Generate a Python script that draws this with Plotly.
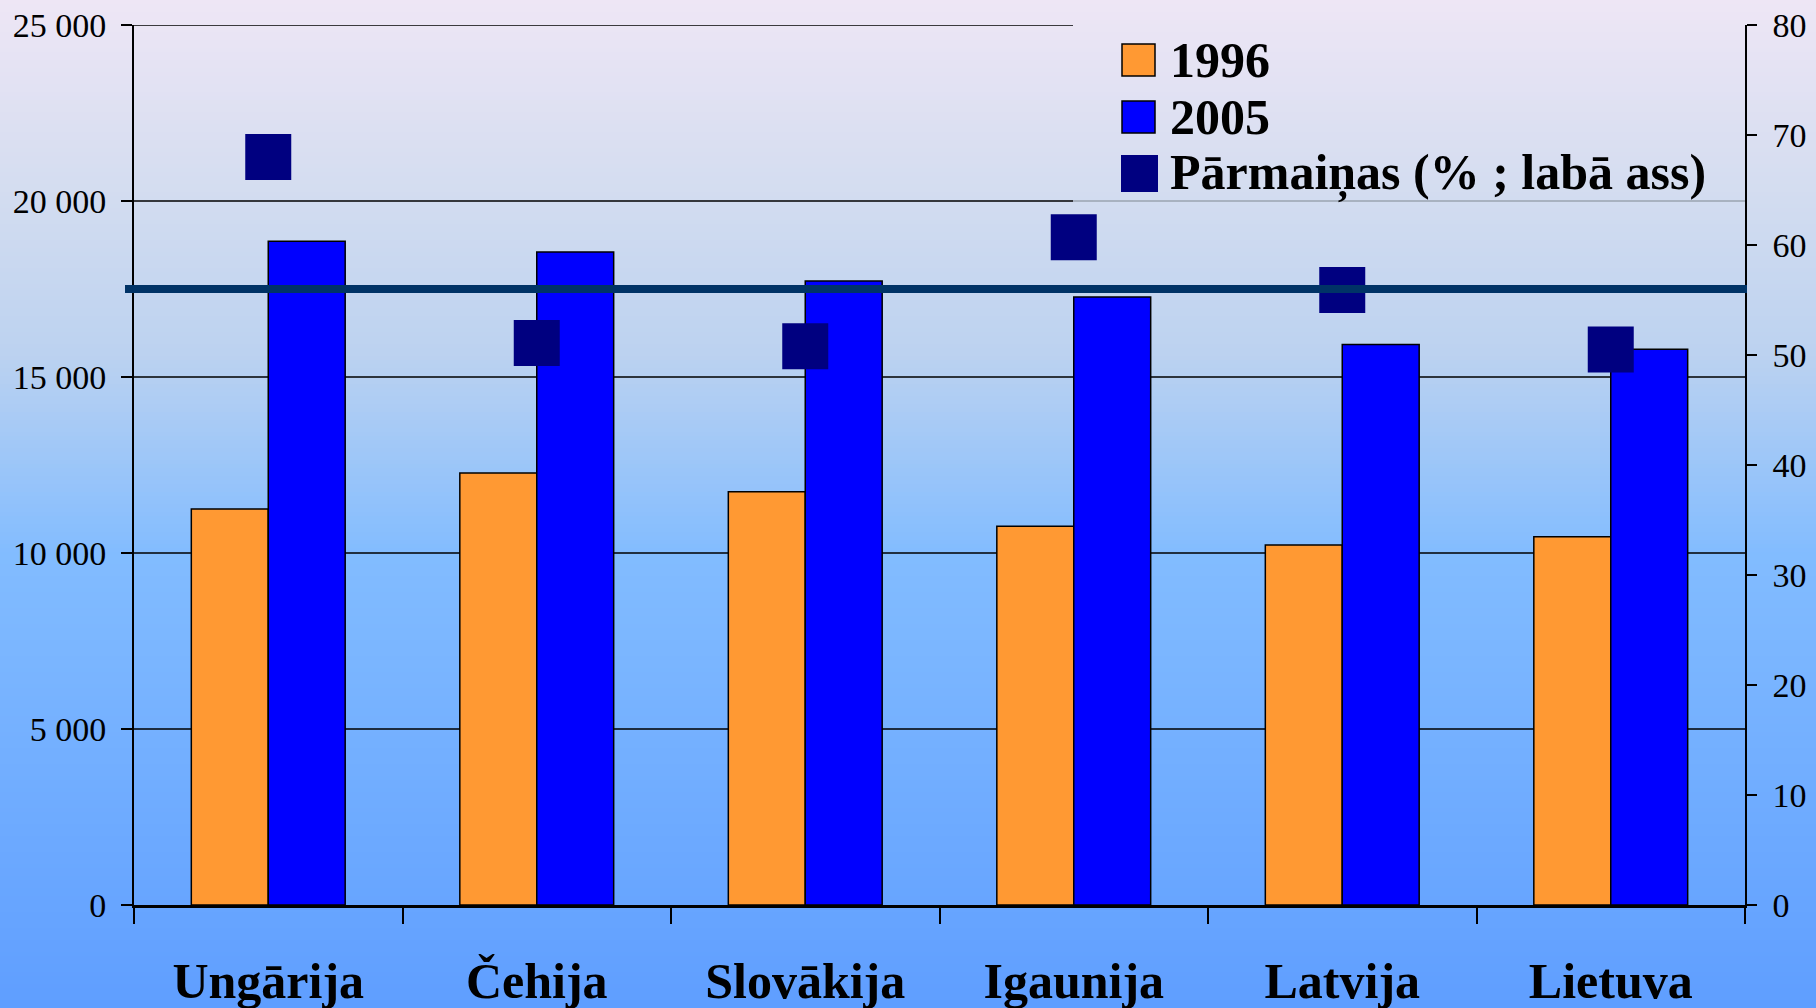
import plotly.graph_objects as go

# ---- data ----
categories = ["Ungārija", "Čehija", "Slovākija", "Igaunija", "Latvija", "Lietuva"]
values_1996 = [11250, 12270, 11740, 10760, 10230, 10460]
values_2005 = [18860, 18550, 17730, 17270, 15920, 15790]
change_pct = [68.0, 51.1, 50.8, 60.7, 55.9, 50.5]
avg_change = 56.0
series_names = ["1996", "2005", "Pārmaiņas (% ; labā ass)"]
left_tickvals = [0, 5000, 10000, 15000, 20000, 25000]
left_ticktext = ["0", "5 000", "10 000", "15 000", "20 000", "25 000"]
right_tickvals = [0, 10, 20, 30, 40, 50, 60, 70, 80]

W, H = 1816, 1008
ML, MR, MT, MB = 134, 71, 25, 103
PW, PH = W - ML - MR, H - MT - MB


def px_x(px):
    return (px - ML) / PW


def px_y(py):
    return (H - MB - py) / PH


C_1996 = "#FF9933"
C_2005 = "#0000FF"
C_CHG = "#000080"
FONT = "Liberation Serif"

fig = go.Figure()
fig.add_trace(go.Bar(x=categories, y=values_1996, name=series_names[0],
                     marker=dict(color=C_1996, line=dict(color="black", width=1.5)),
                     showlegend=False))
fig.add_trace(go.Bar(x=categories, y=values_2005, name=series_names[1],
                     marker=dict(color=C_2005, line=dict(color="black", width=1.5)),
                     showlegend=False))
fig.add_trace(go.Scatter(x=categories, y=change_pct, name=series_names[2], yaxis="y2",
                         mode="markers",
                         marker=dict(symbol="square", size=46, color=C_CHG, line=dict(width=0)),
                         showlegend=False))

shapes = []
# gradient background
stops = [(0.0, (238, 230, 245)), (0.2, (210, 220, 240)), (0.35, (188, 210, 240)),
         (0.55, (130, 188, 255)), (0.75, (115, 175, 255)), (1.0, (95, 158, 255))]


def grad(t):
    for (t0, c0), (t1, c1) in zip(stops[:-1], stops[1:]):
        if t <= t1:
            f = (t - t0) / (t1 - t0)
            return tuple(round(a + (b - a) * f) for a, b in zip(c0, c1))
    return stops[-1][1]


NB = 252
for i in range(NB):
    y0 = i * H / NB - (3 if i == 0 else 0)
    y1 = (i + 1) * H / NB + (0.8 if i < NB - 1 else 4)
    r, g, b = grad((i + 0.5) / NB)
    shapes.append(dict(type="rect", xref="paper", yref="paper",
                       x0=-0.2, x1=1.2, y0=px_y(y1), y1=px_y(y0),
                       fillcolor=f"rgb({r},{g},{b})", line=dict(width=0), layer="below"))

# gridlines
legend_left = px_x(1073)
for v in left_tickvals[1:]:
    if v < 20000:
        shapes.append(dict(type="line", xref="paper", yref="y", x0=0, x1=1, y0=v, y1=v,
                           line=dict(color="black", width=1.5), layer="below"))
    else:
        shapes.append(dict(type="line", xref="paper", yref="y", x0=0, x1=legend_left, y0=v, y1=v,
                           line=dict(color="black", width=1.5), layer="below"))
        if v == 20000:
            shapes.append(dict(type="line", xref="paper", yref="y", x0=legend_left, x1=1, y0=v, y1=v,
                               line=dict(color="#7f8790", width=1.2), layer="below"))

# average change line
shapes.append(dict(type="line", xref="paper", yref="y2", x0=px_x(125), x1=px_x(1747),
                   y0=avg_change, y1=avg_change, line=dict(color="#003366", width=8), layer="above"))

# manual legend
leg_items = [
    (series_names[0], C_1996, (1122, 44, 1155, 76), True, 60),
    (series_names[1], C_2005, (1122, 101, 1155, 133), True, 117),
    (series_names[2], C_CHG, (1121, 155, 1158, 192), False, 173),
]
annotations = []
for name, col, (x0, y0, x1, y1), border, yc in leg_items:
    shapes.append(dict(type="rect", xref="paper", yref="paper",
                       x0=px_x(x0), x1=px_x(x1), y0=px_y(y1), y1=px_y(y0),
                       fillcolor=col,
                       line=dict(color="black", width=1.5) if border else dict(width=0),
                       layer="above"))
    annotations.append(dict(xref="paper", yref="paper", x=px_x(1168), y=px_y(yc),
                            text=name, showarrow=False, xanchor="left", yanchor="middle",
                            font=dict(family=FONT, size=50, color="black", weight="bold")))

fig.update_layout(
    width=W, height=H, autosize=False,
    margin=dict(l=ML, r=MR, t=MT, b=MB, pad=0, autoexpand=False),
    paper_bgcolor="rgba(0,0,0,0)", plot_bgcolor="rgba(0,0,0,0)",
    barmode="group", bargap=0.427, bargroupgap=0,
    shapes=shapes, annotations=annotations,
    font=dict(family=FONT, color="black"),
    hovermode=False,
    xaxis=dict(type="category", showline=True, linecolor="black", linewidth=2.5,
               ticks="outside", tickson="boundaries", ticklen=16, tickwidth=1.5,
               tickcolor="black", showgrid=False, zeroline=False, automargin=False,
               tickfont=dict(family=FONT, size=50, color="black", weight="bold"),
               ticklabelstandoff=30),
    yaxis=dict(range=[0, 25000], tickvals=left_tickvals, ticktext=left_ticktext,
               showline=True, linecolor="black", linewidth=2, ticks="outside",
               ticklen=11, tickwidth=1.5, tickcolor="black", showgrid=False, zeroline=False,
               automargin=False,
               tickfont=dict(family=FONT, size=34, color="black"), ticklabelstandoff=8),
    yaxis2=dict(range=[0, 80], tickvals=right_tickvals, overlaying="y", side="right",
                showline=True, linecolor="black", linewidth=1.5, ticks="outside",
                ticklen=10, tickwidth=1.5, tickcolor="black", showgrid=False, zeroline=False,
                automargin=False,
                tickfont=dict(family=FONT, size=34, color="black"), ticklabelstandoff=9),
)

fig.write_html("out.html",
               config={"displayModeBar": False, "responsive": False},
               post_script="document.body.style.margin='0';document.body.style.overflow='hidden';")
